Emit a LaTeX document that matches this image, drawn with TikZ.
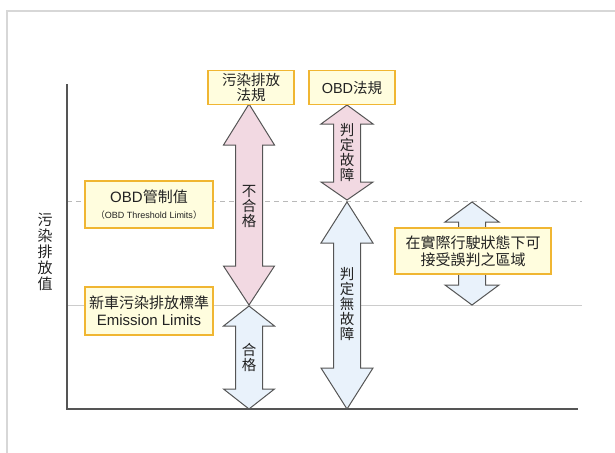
\documentclass[tikz,border=0pt]{standalone}
\usepackage{fontspec}
\setmainfont{Liberation Sans}
\newfontfamily\cjk{Noto Sans CJK TC}
\definecolor{pinkf}{RGB}{242,217,226}
\definecolor{bluef}{RGB}{233,242,251}
\definecolor{boxfill}{RGB}{255,253,222}
\definecolor{boxline}{RGB}{240,182,50}
\definecolor{arrline}{RGB}{85,85,85}
\definecolor{txt}{RGB}{34,34,34}
\definecolor{framec}{RGB}{215,215,215}
\newcommand\dbarrow[8]{%
\filldraw[arr,fill=#1] (#2,#3) -- ({#2+#7},#5) -- ({#2+#8},#5) -- ({#2+#8},#6) -- ({#2+#7},#6) -- (#2,#4) -- ({#2-#7},#6) -- ({#2-#8},#6) -- ({#2-#8},#5) -- ({#2-#7},#5) -- cycle;}
\begin{document}
\begin{tikzpicture}[x=1pt,y=-1pt,
  box/.style={draw=boxline, fill=boxfill, line width=1.2pt, inner sep=0pt, align=center, text=txt, font=\fontsize{15}{17}\selectfont},
  arr/.style={draw=arrline, line width=1pt, line join=miter},
  vtext/.style={align=center, text=txt, inner sep=0pt, font=\cjk\fontsize{14.5}{15}\selectfont}]
\useasboundingbox (0,0) rectangle (615,452);
% frame
\draw[framec, line width=2pt] (7,470) -- (7,11) -- (630,11);
% reference lines
\coordinate (d1) at (67,201);
\coordinate (d2) at (582,201);
\coordinate (s1) at (67,305);
\coordinate (s2) at (582,305);
\draw[gray!55, line width=1pt, dash pattern=on 5pt off 4pt] (d1) -- (d2);
\draw[gray!40, line width=1pt] (s1) -- (s2);
% axes
\coordinate (o) at (67,409);
\coordinate (yt) at (67,84);
\coordinate (xr) at (578,409);
\draw[arrline, line width=2.5pt] (yt) -- (o) -- (xr);
\node[vtext, font=\cjk\fontsize{15}{16}\selectfont] (ylab) at (45,252) {污\\染\\排\\放\\值};
% arrows
\dbarrow{pinkf}{249}{104}{305}{145}{266}{25.5}{13.5}
\dbarrow{bluef}{249}{306}{409}{326}{389}{25.5}{13.5}
\dbarrow{pinkf}{347}{105}{200}{124}{182}{26}{13.5}
\dbarrow{bluef}{347}{202}{409}{243}{368}{26}{13.5}
\dbarrow{bluef}{472}{202}{305}{222}{285}{27}{13.5}
\node[vtext] (fail) at (249,207) {不\\合\\格};
\node[vtext] (pass) at (249,357) {合\\格};
\node[vtext] (jf) at (347,153) {判\\定\\故\\障};
\node[vtext] (jnf) at (347,304) {判\\定\\無\\故\\障};
% boxes
\node[box, minimum width=86pt, minimum height=34pt, font=\cjk\fontsize{14.5}{15.5}\selectfont] (reg) at (251,87.5) {污染排放\\法規};
\node[box, minimum width=86pt, minimum height=34pt, font=\fontsize{14.5}{16}\selectfont] (obd) at (352,87.5) {OBD{\cjk 法規}};
\node[box, minimum width=128pt, minimum height=47pt] (thr) at (149,204.5) {OBD{\cjk 管制值}\\[-1pt]{\fontsize{9}{10}\selectfont{\cjk （}OBD Threshold Limits{\cjk ）}}};
\node[box, minimum width=128pt, minimum height=48pt] (emis) at (149,311) {{\cjk 新車污染排放標準}\\Emission Limits};
\node[box, minimum width=156pt, minimum height=46pt, font=\cjk\fontsize{15}{17}\selectfont] (zone) at (473,251) {在實際行駛狀態下可\\接受誤判之區域};
\end{tikzpicture}
\end{document}
